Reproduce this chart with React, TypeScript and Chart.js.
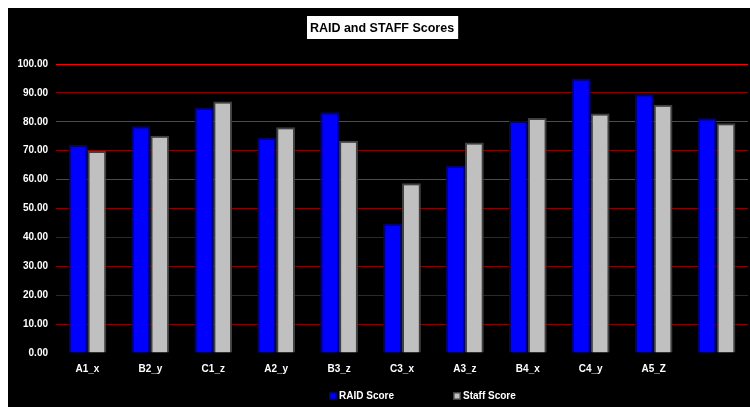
import React, { useEffect, useRef } from "react";
import { Chart, registerables } from "chart.js";

Chart.register(...registerables);

const TITLE = "RAID and STAFF Scores";
const categories = ["A1_x", "B2_y", "C1_z", "A2_y", "B3_z", "C3_x", "A3_z", "B4_x", "C4_y", "A5_Z", ""];
const raidScores = [72.1, 78.5, 84.8, 74.5, 83.3, 44.6, 64.7, 80.3, 95.0, 89.5, 81.2];
const staffScores = [69.9, 75.2, 87.0, 78.1, 73.4, 58.7, 72.8, 81.3, 82.9, 85.9, 79.5];
const seriesLabels = ["RAID Score", "Staff Score"];
const yTicks = [0, 10, 20, 30, 40, 50, 60, 70, 80, 90, 100];
const brightTicks = [100, 80, 60];

const FONT = "'Liberation Sans', Arial, sans-serif";

const overlayPlugin = {
  id: "overlay",
  afterDraw(chart: any) {
    const ctx = chart.ctx as CanvasRenderingContext2D;
    ctx.save();
    // Title box
    ctx.font = `bold 12.5px ${FONT}`;
    const tw = ctx.measureText(TITLE).width;
    const cx = 374;
    const bw = tw + 8;
    const bx = Math.round(cx - bw / 2) + 0.5;
    const by = 7.5;
    const bh = 24;
    ctx.fillStyle = "#ffffff";
    ctx.fillRect(bx, by, bw, bh);
    ctx.strokeStyle = "#000000";
    ctx.lineWidth = 1;
    ctx.strokeRect(bx, by, bw, bh);
    ctx.fillStyle = "#000000";
    ctx.textAlign = "center";
    ctx.textBaseline = "middle";
    ctx.fillText(TITLE, cx, by + bh / 2 + 1);

    // Legend
    ctx.font = `bold 10px ${FONT}`;
    ctx.textAlign = "left";
    ctx.textBaseline = "middle";
    const ly = 388;
    const starts = [321, 445];
    chart.data.datasets.forEach((ds: any, i: number) => {
      const x = starts[i];
      ctx.fillStyle = ds.borderColor;
      ctx.fillRect(x, ly - 4, 8, 8);
      ctx.fillStyle = ds.backgroundColor;
      ctx.fillRect(x + 1.5, ly - 2.5, 5, 5);
      ctx.fillStyle = "#ffffff";
      ctx.fillText(ds.label, x + 10, ly + 0.5);
    });
    ctx.restore();
  },
};

export default function App() {
  const ref = useRef<HTMLCanvasElement | null>(null);
  useEffect(() => {
    if (!ref.current) return;
    const gridColors = yTicks.map((v) =>
      v === 0 ? "rgba(0,0,0,0)" : brightTicks.includes(v) ? "#FF0000" : "#8B0000"
    );
    const chart = new Chart(ref.current, {
      type: "bar",
      data: {
        labels: categories,
        datasets: [
          {
            label: seriesLabels[0],
            data: raidScores,
            backgroundColor: "#0000FF",
            borderColor: "#00007A",
            borderWidth: 2,
          },
          {
            label: seriesLabels[1],
            data: staffScores,
            backgroundColor: "#C0C0C0",
            borderColor: "#404040",
            borderWidth: 2,
          },
        ],
      },
      options: {
        responsive: false,
        animation: false,
        layout: { padding: { top: 56, right: 2, left: 0, bottom: 0 } },
        plugins: {
          legend: { display: false },
          title: { display: false },
          tooltip: { enabled: false },
        },
        datasets: {
          bar: { barPercentage: 1, categoryPercentage: 0.6 },
        },
        scales: {
          x: {
            grid: { display: false, drawTicks: false },
            border: { display: false },
            ticks: {
              color: "#ffffff",
              font: { family: FONT, size: 10, weight: "bold" },
              padding: 10,
              maxRotation: 0,
              autoSkip: false,
            },
            afterFit(scale: any) {
              scale.height = 54;
            },
          },
          y: {
            min: 0,
            max: 100,
            afterBuildTicks(scale: any) {
              scale.ticks = yTicks.map((v) => ({ value: v }));
            },
            grid: {
              drawTicks: false,
              lineWidth: 1,
              color: gridColors,
            },
            border: { display: false },
            ticks: {
              stepSize: 10,
              color: "#ffffff",
              font: { family: FONT, size: 10, weight: "bold" },
              padding: 8,
              callback: (v: any) => Number(v).toFixed(2),
            },
            afterFit(scale: any) {
              scale.width = 48;
            },
          },
        },
      },
      plugins: [overlayPlugin],
    } as any);
    return () => chart.destroy();
  }, []);
  return (
    <div
      style={{
        position: "fixed",
        left: 8,
        top: 8,
        width: 742,
        height: 399,
        background: "#000000",
      }}
    >
      <canvas ref={ref} width={742} height={399} />
    </div>
  );
}
